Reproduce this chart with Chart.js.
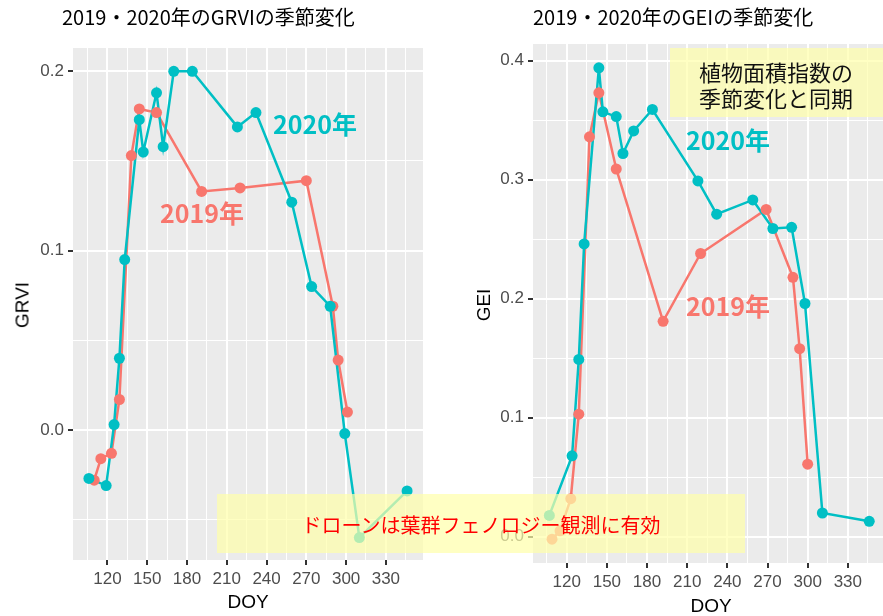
<!DOCTYPE html>
<html>
<head>
<meta charset="utf-8">
<script src="https://cdn.jsdelivr.net/npm/chart.js@4"></script>
<style>
  html, body { margin: 0; padding: 0; background: #fff; width: 883px; height: 616px; overflow: hidden; }
  body { position: relative; font-family: "Noto Sans CJK JP", "Liberation Sans", sans-serif; }
  .panel { position: absolute; top: 0; }
  .txt { position: absolute; white-space: nowrap; line-height: 1; }
  .title { font-size: 20px; color: #000; top: 7px; }
  .axt { font-family: "Liberation Sans", Arial, sans-serif; font-size: 19px; color: #000; }
  .yr { font-size: 25px; font-weight: bold; }
  .note { position: absolute; background: rgba(255, 255, 170, 0.7); }
</style>
</head>
<body>
<div class="panel" style="left:0;width:440px;height:616px"><canvas id="grvi" width="440" height="616"></canvas></div>
<div class="panel" style="left:440px;width:450px;height:616px"><canvas id="gei" width="450" height="616"></canvas></div>

<div class="txt title" style="left:62px">2019・2020年のGRVIの季節変化</div>
<div class="txt title" style="left:533px">2019・2020年のGEIの季節変化</div>

<div class="txt axt" style="left:248px;top:601px;transform:translate(-50%,-50%)">DOY</div>
<div class="txt axt" style="left:711px;top:605px;transform:translate(-50%,-50%)">DOY</div>
<div class="txt axt" style="left:22px;top:305px;transform:translate(-50%,-50%) rotate(-90deg)">GRVI</div>
<div class="txt axt" style="left:483px;top:305px;transform:translate(-50%,-50%) rotate(-90deg)">GEI</div>

<div class="txt yr" style="left:273px;top:111px;color:#00BFC4">2020年</div>
<div class="txt yr" style="left:160px;top:200px;color:#F8766D">2019年</div>
<div class="txt yr" style="left:686px;top:127px;color:#00BFC4">2020年</div>
<div class="txt yr" style="left:686px;top:293px;color:#F8766D">2019年</div>

<div class="note" style="left:670px;top:48px;width:213px;height:69px"></div>
<div class="txt" style="left:776px;top:84px;transform:translate(-50%,-50%);font-size:22px;line-height:26px;text-align:center;color:#111">植物面積指数の<br>季節変化と同期</div>

<div class="note" style="left:217px;top:494px;width:528px;height:59px"></div>
<div class="txt" style="left:481px;top:525px;transform:translate(-50%,-50%);font-size:20px;color:#FF0000">ドローンは葉群フェノロジー観測に有効</div>

<script>
// GRVI (左)
var grviDays2019 = [110, 115, 123, 129, 138, 144, 157, 191, 220, 270, 290, 294, 301];
var grvi2019 = [-0.028, -0.016, -0.013, 0.017, 0.153, 0.179, 0.177, 0.133, 0.135, 0.139, 0.069, 0.039, 0.010];
var grviDays2020 = [106, 119, 125, 129, 133, 144, 147, 157, 162, 170, 184, 218, 232, 259, 274, 288, 299, 310, 346];
var grvi2020 = [-0.027, -0.031, 0.003, 0.040, 0.095, 0.173, 0.155, 0.188, 0.158, 0.200, 0.200, 0.169, 0.177, 0.127, 0.080, 0.069, -0.002, -0.060, -0.034];

// GEI (右)
var geiDays2019 = [109, 115, 123, 129, 137, 144, 157, 192, 220, 269, 289, 294, 300];
var gei2019 = [-0.002, 0.005, 0.032, 0.103, 0.336, 0.373, 0.309, 0.181, 0.238, 0.275, 0.218, 0.158, 0.061];
var geiDays2020 = [107, 124, 129, 133, 144, 147, 157, 162, 170, 184, 218, 232, 259, 274, 288, 298, 311, 346];
var gei2020 = [0.018, 0.068, 0.149, 0.246, 0.394, 0.357, 0.353, 0.322, 0.341, 0.359, 0.299, 0.271, 0.283, 0.259, 0.260, 0.196, 0.020, 0.013];

var xTicks = [105, 120, 135, 150, 165, 180, 195, 210, 225, 240, 255, 270, 285, 300, 315, 330, 345];
var grviTicks = [-0.05, 0, 0.05, 0.1, 0.15, 0.2];
var geiTicks = [0, 0.05, 0.1, 0.15, 0.2, 0.25, 0.3, 0.35, 0.4];

var RED = '#F8766D', TEAL = '#00BFC4';

var panelBg = {
    id: 'panelBg',
    beforeDraw: function(chart) {
        var a = chart.chartArea, ctx = chart.ctx;
        ctx.save();
        ctx.fillStyle = '#EBEBEB';
        ctx.fillRect(a.left, a.top, a.right - a.left, a.bottom - a.top);
        ctx.restore();
    }
};

function toPoints(xs, ys) {
    var out = [];
    for (var i = 0; i < xs.length; i++) out.push({ x: xs[i], y: ys[i] });
    return out;
}

function isMajorX(v) { return Math.round(v) % 30 === 0; }
function isMajorY(v) { return Math.round(v * 100) % 10 === 0; }

function makeChart(id, opt) {
    var ctx = document.getElementById(id).getContext('2d');
    var sets = [];
    // points on top of lines, 2020 on top of 2019
    [[opt.d20x, opt.d20y, TEAL, 0, 2], [opt.d19x, opt.d19y, RED, 1, 3]].forEach(function(s) {
        var pts = toPoints(s[0], s[1]);
        sets.push({ data: pts, showLine: false, pointRadius: 5.5, pointBorderWidth: 0,
            pointBackgroundColor: s[2], borderColor: s[2], order: s[3] });
        sets.push({ data: pts, showLine: true, pointRadius: 0, borderWidth: 2.5,
            borderColor: s[2], order: s[4] });
    });

    return new Chart(ctx, {
        type: 'scatter',
        data: { datasets: sets },
        options: {
            responsive: false,
            animation: false,
            events: [],
            layout: { padding: { left: 0, top: opt.top, right: opt.right, bottom: 0 } },
            plugins: { legend: { display: false }, tooltip: { enabled: false } },
            scales: {
                x: {
                    type: 'linear', min: opt.xmin, max: opt.xmax,
                    afterBuildTicks: function(s) { s.ticks = xTicks.map(function(v) { return { value: v }; }); },
                    afterFit: function(s) { s.height = opt.xh; },
                    border: { display: false },
                    grid: {
                        color: '#FFFFFF',
                        lineWidth: function(c) { return isMajorX(c.tick.value) ? 2 : 1; },
                        tickLength: 5,
                        tickColor: function(c) { return isMajorX(c.tick.value) ? '#333333' : 'rgba(0,0,0,0)'; }
                    },
                    ticks: {
                        autoSkip: false, maxRotation: 0, padding: 4,
                        color: '#4D4D4D', font: { family: 'Liberation Sans', size: 17 },
                        callback: function(v) { return isMajorX(v) ? String(v) : ''; }
                    }
                },
                y: {
                    type: 'linear', min: opt.ymin, max: opt.ymax,
                    afterBuildTicks: function(s) { s.ticks = opt.yticks.map(function(v) { return { value: v }; }); },
                    afterFit: function(s) { s.width = opt.yw; },
                    border: { display: false },
                    grid: {
                        color: '#FFFFFF',
                        lineWidth: function(c) { return isMajorY(c.tick.value) ? 2 : 1; },
                        tickLength: 5,
                        tickColor: function(c) { return isMajorY(c.tick.value) ? '#333333' : 'rgba(0,0,0,0)'; }
                    },
                    ticks: {
                        padding: 4,
                        color: '#4D4D4D', font: { family: 'Liberation Sans', size: 17 },
                        callback: function(v) { return isMajorY(v) ? v.toFixed(1) : ''; }
                    }
                }
            }
        },
        plugins: [panelBg]
    });
}

makeChart('grvi', {
    d19x: grviDays2019, d19y: grvi2019, d20x: grviDays2020, d20y: grvi2020,
    xmin: 94, xmax: 358, ymin: -0.0725, ymax: 0.213, yticks: grviTicks,
    top: 48, right: 17, xh: 56, yw: 73
});

makeChart('gei', {
    d19x: geiDays2019, d19y: gei2019, d20x: geiDays2020, d20y: gei2020,
    xmin: 94.8, xmax: 357.4, ymin: -0.022, ymax: 0.414, yticks: geiTicks,
    top: 44, right: 1, xh: 53, yw: 93
});
</script>
</body>
</html>
